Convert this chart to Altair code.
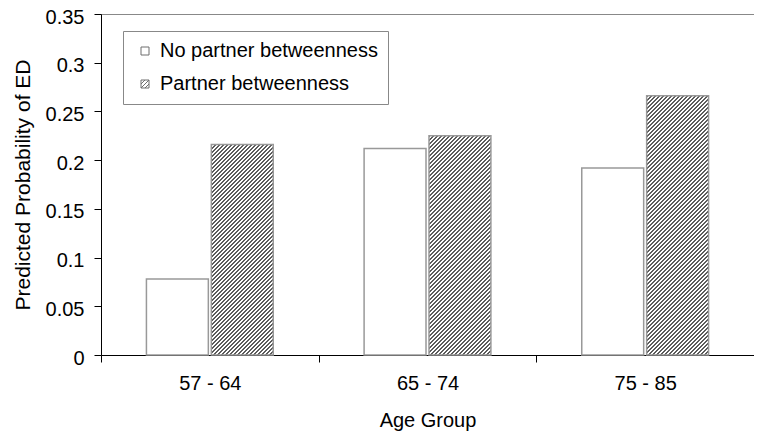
import altair as alt
import pandas as pd

# ---- data ----
categories = ["57 - 64", "65 - 74", "75 - 85"]
series = ["No partner betweenness", "Partner betweenness"]
no_partner = [0.078, 0.212, 0.192]
partner = [0.216, 0.225, 0.266]
y_ticks = [0, 0.05, 0.1, 0.15, 0.2, 0.25, 0.3, 0.35]

rows = []
for c, a, b in zip(categories, no_partner, partner):
    rows.append({"age": c, "series": series[0], "value": a})
    rows.append({"age": c, "series": series[1], "value": b})
df = pd.DataFrame(rows)

# ---- layout / style ----
FONT = "Liberation Sans"
W, H = 653, 341
YMAX = 0.35
P_IN, P_OUT = 0.046, 0.7
band = W / len(categories)
step = band / (2 - P_IN + 2 * P_OUT)
BW = step * (1 - P_IN)
BAR_STROKE = "#999999"


def hatch(w, h, period=4.0, lw=2.0, dark="#5c5c5c", light="#ffffff"):
    """Diagonal '/' hatching as a sharp-stop linear gradient (bbox units)."""
    L = w + h
    a = L * w / (w * w + h * h)
    stops = []
    pos = 0.0
    while pos < L:
        s0 = pos / L
        s1 = min((pos + lw) / L, 1.0)
        stops += [
            {"offset": s0, "color": light},
            {"offset": s0, "color": dark},
            {"offset": s1, "color": dark},
            {"offset": s1, "color": light},
        ]
        pos += period
    return {"gradient": "linear", "x1": 0, "y1": 0, "x2": a, "y2": a * h / w,
            "stops": stops}


hatch_symbol = ("M-1,-1H1V1H-1Z"
                "M-1,0L0,-1"
                "M-1,1L1,-1"
                "M0,1L1,0")

x_enc = alt.X(
    "age:N",
    scale=alt.Scale(domain=categories, paddingInner=0, paddingOuter=0),
    axis=alt.Axis(title="Age Group", tickBand="extent", labelAngle=0,
                  labelPadding=11, titlePadding=17),
)
xo_enc = alt.XOffset(
    "series:N",
    scale=alt.Scale(domain=series, paddingInner=P_IN, paddingOuter=P_OUT),
)
y_scale = alt.Scale(domain=[0, YMAX], nice=False, zero=True)
y_axis = alt.Axis(title="Predicted Probability of ED", values=y_ticks,
                  format="~g", labelPadding=10, titlePadding=12,
                  titleFontSize=21, labelOffset=3)

base = alt.Chart(df)

# points hidden beneath the (opaque) bars; they only carry the legend
legend_pts = base.transform_calculate(mid="datum.value / 2").mark_point(
    filled=False, color="#6e6e6e", strokeWidth=1, size=10, opacity=1,
).encode(
    x=x_enc,
    xOffset=xo_enc,
    y=alt.Y("mid:Q", scale=y_scale, axis=y_axis),
    shape=alt.Shape(
        "series:N",
        scale=alt.Scale(domain=series, range=["square", hatch_symbol]),
        legend=alt.Legend(
            title=None, orient="none", legendX=22, legendY=17,
            fillColor="white", strokeColor="#888888", padding=10,
            rowPadding=13, symbolOffset=2, labelOffset=5,
            labelFontSize=20, labelFont=FONT, labelColor="black",
            labelLimit=400, symbolSize=64, symbolStrokeWidth=1,
            symbolOpacity=1,
        ),
    ),
)

white_bars = base.transform_filter(
    alt.datum.series == series[0]
).mark_bar(fill="white", stroke=BAR_STROKE, strokeWidth=1.5).encode(
    x=x_enc, xOffset=xo_enc,
    y=alt.Y("value:Q", scale=y_scale, axis=y_axis),
)

hatched = []
for c, v in zip(categories, partner):
    h_px = v / YMAX * H
    hatched.append(
        base.transform_filter(
            (alt.datum.series == series[1]) & (alt.datum.age == c)
        ).mark_bar(fill=hatch(BW, h_px), stroke=BAR_STROKE, strokeWidth=1.5)
        .encode(x=x_enc, xOffset=xo_enc,
                y=alt.Y("value:Q", scale=y_scale, axis=y_axis))
    )

chart = alt.layer(legend_pts, white_bars, *hatched).properties(
    width=W, height=H,
    autosize=alt.AutoSizeParams(type="none"),
    padding={"left": 93, "top": 6, "right": 0, "bottom": 80},
).configure_view(
    stroke="#888888", strokeWidth=1,
).configure_axis(
    grid=False, domainColor="black", domainWidth=1, tickColor="black",
    tickSize=7, labelFont=FONT, titleFont=FONT, labelFontSize=20,
    titleFontSize=20, labelColor="black", titleColor="black",
    titleFontWeight="normal",
).configure_legend(
    labelFont=FONT,
)

chart.save("out.html", embed_options={"renderer": "svg", "actions": False})
